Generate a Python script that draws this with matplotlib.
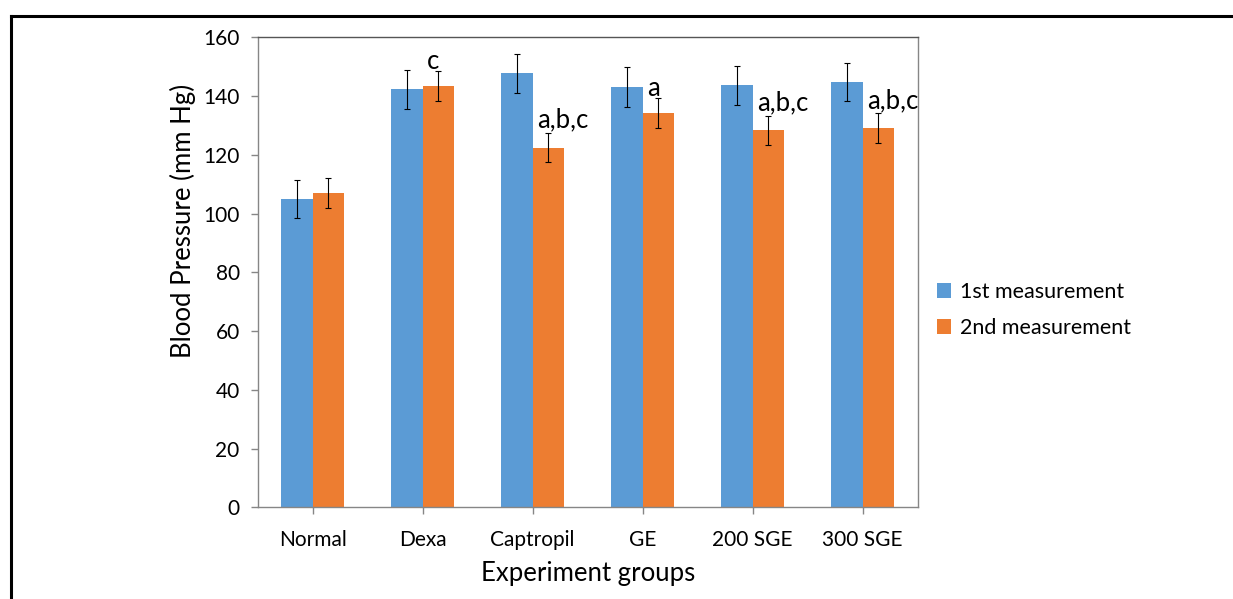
import matplotlib
matplotlib.use('Agg')
import matplotlib.pyplot as plt
import numpy as np
from matplotlib.lines import Line2D

plt.rcParams['font.family'] = ['Lato', 'DejaVu Sans']

groups = ['Normal', 'Dexa', 'Captropil', 'GE', '200 SGE', '300 SGE']
first = [105.0, 142.3, 147.7, 143.1, 143.7, 144.7]
first_err = [6.5, 6.6, 6.6, 6.7, 6.7, 6.5]
second = [107.0, 143.4, 122.5, 134.1, 128.3, 129.1]
second_err = [5.2, 5.0, 5.0, 5.1, 5.0, 5.0]
letters = ['', 'c', 'a,b,c', 'a', 'a,b,c', 'a,b,c']

blue = '#5B9BD5'
orange = '#ED7D31'
grey = '#868686'

fig = plt.figure(figsize=(12.33, 5.99), dpi=100)
ax = fig.add_axes([0.209, 0.1528, 0.5353, 0.7849])

x = np.arange(len(groups))
w = 0.286
ax.bar(x - w/2, first, w, color=blue, label='1st measurement', zorder=2)
ax.bar(x + w/2, second, w, color=orange, label='2nd measurement', zorder=2)
ax.errorbar(x - w/2, first, yerr=first_err, fmt='none', ecolor='black',
            elinewidth=0.8, capsize=2.5, capthick=0.8, zorder=3)
ax.errorbar(x + w/2, second, yerr=second_err, fmt='none', ecolor='black',
            elinewidth=0.8, capsize=2.5, capthick=0.8, zorder=3)

# significance letters next to the 2nd measurement bars
for i, lab in enumerate(letters):
    if lab:
        dy = 4 if ',' in lab else 2
        ax.annotate(lab, xy=(x[i], second[i] + second_err[i]),
                    xytext=(3, dy), textcoords='offset points',
                    ha='left', va='baseline', fontsize=18.5)

ax.set_xlim(-0.5, len(groups) - 0.5)
ax.set_ylim(0, 160)
ax.set_yticks(np.arange(0, 161, 20))
ax.set_xticks(x)
ax.set_xticklabels(groups)
ax.tick_params(axis='both', labelsize=15, color=grey, length=5, width=1)
ax.tick_params(axis='y', pad=8)
ax.tick_params(axis='x', pad=11)
for s in ax.spines.values():
    s.set_color(grey)
    s.set_linewidth(1)
ax.spines['top'].set_color('#555555')

ax.set_ylabel('Blood Pressure (mm Hg)', fontsize=18.5)
ax.yaxis.set_label_coords(-0.093, 0.61)
ax.set_xlabel('Experiment groups', fontsize=18.5, labelpad=8)

ax.legend(loc='center left', bbox_to_anchor=(1.0, 0.42), frameon=False,
          fontsize=15.5, handlelength=0.65, handleheight=0.65, handletextpad=0.4,
          labelspacing=0.75)

# outer frame (top and left edges)
fig.add_artist(Line2D([11/1233, 1], [1 - 15.5/599, 1 - 15.5/599], color='black', lw=2.2))
fig.add_artist(Line2D([11/1233, 11/1233], [0, 1 - 15.5/599], color='black', lw=2.2))

fig.savefig('out.png', dpi=100)
